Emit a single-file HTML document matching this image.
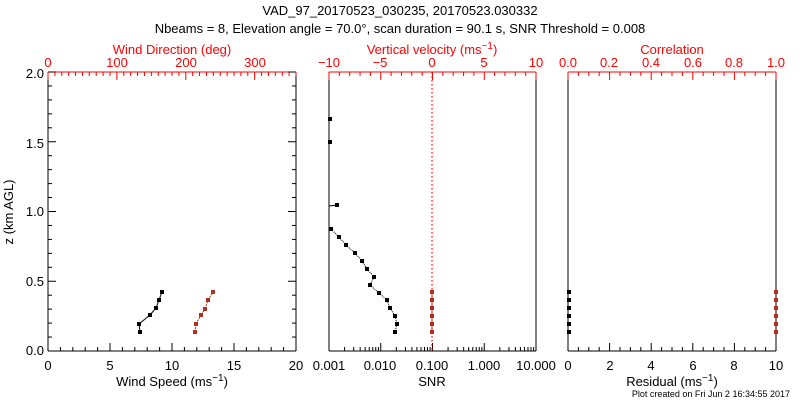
<!DOCTYPE html>
<html><head><meta charset="utf-8"><style>
html,body{margin:0;padding:0;background:#fff;}
svg text{font-family:"Liberation Sans",sans-serif;font-size:13px;}
</style></head><body>
<svg id="s" width="800" height="400" xmlns="http://www.w3.org/2000/svg">
<rect width="800" height="400" fill="#fff"/>
<text x="400" y="15" text-anchor="middle">VAD_97_20170523_030235, 20170523.030332</text>
<text x="400" y="33" text-anchor="middle">Nbeams = 8, Elevation angle = 70.0°, scan duration = 90.1 s, SNR Threshold = 0.008</text>
<g fill="red" text-anchor="middle">
<text x="172" y="54">Wind Direction (deg)</text>
<text x="432" y="54">Vertical velocity (ms<tspan dy="-5" font-size="10">−1</tspan><tspan dy="5">)</tspan></text>
<text x="672" y="54">Correlation</text>
<text x="48" y="67">0</text><text x="117" y="67">100</text><text x="186" y="67">200</text><text x="255" y="67">300</text>
<text x="329" y="67">−10</text><text x="380" y="67">−5</text><text x="432" y="67">0</text><text x="484" y="67">5</text><text x="536" y="67">10</text>
<text x="568" y="67">0.0</text><text x="609" y="67">0.2</text><text x="651" y="67">0.4</text><text x="693" y="67">0.6</text><text x="734" y="67">0.8</text><text x="776" y="67">1.0</text>
</g>
<g text-anchor="end">
<text x="44" y="78">2.0</text><text x="44" y="148">1.5</text><text x="44" y="216">1.0</text><text x="44" y="286">0.5</text><text x="44" y="355">0.0</text>
</g>
<text transform="translate(13,212) rotate(-90)" text-anchor="middle" font-size="12">z (km AGL)</text>
<g text-anchor="middle">
<text x="48" y="370">0</text><text x="110" y="370">5</text><text x="172" y="370">10</text><text x="234" y="370">15</text><text x="296" y="370">20</text>
<text x="329" y="370">0.001</text><text x="380" y="370">0.010</text><text x="432" y="370">0.100</text><text x="484" y="370">1.000</text><text x="536" y="370">10.000</text>
<text x="568" y="370">0</text><text x="610" y="370">2</text><text x="651" y="370">4</text><text x="693" y="370">6</text><text x="734" y="370">8</text><text x="776" y="370">10</text>
<text x="172" y="386">Wind Speed (ms<tspan dy="-5" font-size="10">−1</tspan><tspan dy="5">)</tspan></text>
<text x="432" y="386">SNR</text>
<text x="672" y="386">Residual (ms<tspan dy="-5" font-size="10">−1</tspan><tspan dy="5">)</tspan></text>
</g>
<text x="790" y="397" text-anchor="end" style="font-size:9px">Plot created on Fri Jun  2 16:34:55 2017</text>
<g id="g"></g>
</svg>
<script>
var g=document.getElementById('g'),NS='http://www.w3.org/2000/svg';
function L(x1,y1,x2,y2,c,w,d){var e=document.createElementNS(NS,'line');e.setAttribute('x1',x1);e.setAttribute('y1',y1);e.setAttribute('x2',x2);e.setAttribute('y2',y2);e.setAttribute('stroke',c||'#000');e.setAttribute('stroke-width',w||1);if(d)e.setAttribute('stroke-dasharray',d);g.appendChild(e);}
function R(x,y,c){var e=document.createElementNS(NS,'rect');e.setAttribute('x',x-2);e.setAttribute('y',y-2);e.setAttribute('width',4);e.setAttribute('height',4);e.setAttribute('fill',c);g.appendChild(e);}
function P(pts,c,d){for(var i=1;i<pts.length;i++)L(pts[i-1][0],pts[i-1][1],pts[i][0],pts[i][1],c,1,d);pts.forEach(function(p){R(p[0],p[1],c)});}
var T=72,B=351,panels=[[48,296],[329,536],[568,776]];
panels.forEach(function(p,k){
 var a=p[0],b=p[1];
 L(a,B,b,B);L(a,T,b,T,'red');L(a,T,a,B);L(b,T,b,B);
 if(k==0){for(var i=0;i<=20;i++){var y=B-i*0.1*139.5,len=(i%5==0)?8:4;L(a,y,a+len,y);L(b,y,b-len,y);}}
});
for(var i=0;i<=20;i++){var x=48+i*12.4;L(x,B,x,B-(i%5?4:8));}
for(var i=0;i<=36;i++){var x=48+i*248/36;L(x,T,x,T+(i%10?4:8),'red');}
for(var d=0;d<4;d++)for(var m=1;m<10;m++){var x=329+(d+Math.log10(m))*51.75;L(x,B,x,B-(m==1?8:4));}
L(536,B,536,B-8);
for(var i=0;i<=20;i++){var x=329+i*207/20;L(x,T,x,T+(i%5?4:8),'red');}
for(var i=0;i<=20;i++){var x=568+i*208/20;L(x,B,x,B-(i%4?4:8));L(x,T,x,T+(i%4?4:8),'red');}
L(432,T,432,B,'red',1.2,'1.5,2.5');
P([[140,332],[139,324],[150,315],[156,308],[159,300],[162,292]],'#000');
P([[195,332],[196,324],[201,315],[205,309],[208,300],[213,292]],'#b03020','2,1');
L(329,206,337,205);R(337,205,'#000');R(330,119,'#000');R(330,142,'#000');
P([[331,229],[339,237],[346,245],[355,253],[362,261],[367,269],[374,277],[370,285],[379,293],[387,300],[390,308],[395,316],[397,324],[395,332]],'#000','1,1');
P([[432,292],[432,300],[432,308],[432,316],[432,324],[432,332]],'#b03020');
[292,300,308,316,324,332].forEach(function(y){R(569,y,'#000');R(776,y,'#b03020');});
</script>
</body></html>
